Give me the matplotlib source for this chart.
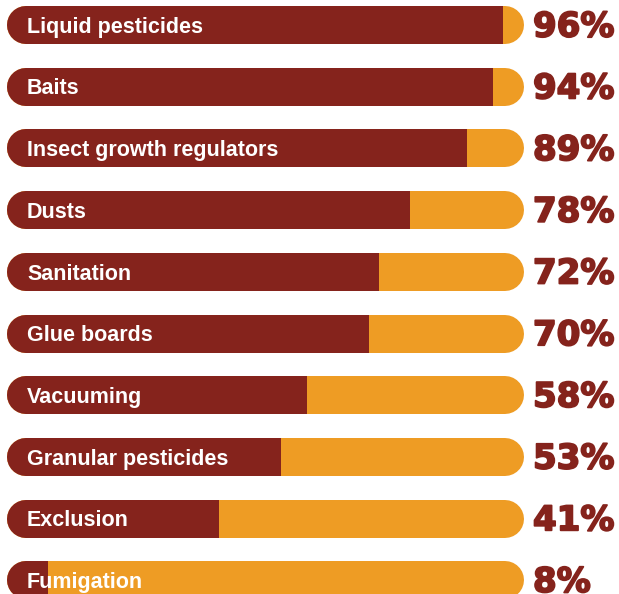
import matplotlib.pyplot as plt
import matplotlib.patheffects as pe
from matplotlib.patches import Rectangle

methods = ["Liquid pesticides", "Baits", "Insect growth regulators", "Dusts",
           "Sanitation", "Glue boards", "Vacuuming", "Granular pesticides",
           "Exclusion", "Fumigation"]
shares = [96, 94, 89, 78, 72, 70, 58, 53, 41, 8]

RED = "#85231c"
ORANGE = "#ee9c24"

W, H = 619, 594
fig = plt.figure(figsize=(W / 100, H / 100), dpi=100)
ax = fig.add_axes([0, 0, 1, 1])
ax.axis("off")

# 0..100 runs from pixel 7 to pixel 524, rows 61.7 px apart starting at 25 px
span = 100 * W / 517
x0 = -7 * span / W
ax.set_xlim(x0, x0 + span)
row = 61.7
top = -25 / row
ax.set_ylim(top + H / row, top)

px = span / W           # data units per pixel in x
thick = 38              # bar height in px
cap = thick / 2 * px
lw = thick * 72 / 100

for i, (name, val) in enumerate(zip(methods, shares)):
    ax.plot([cap, 100 - cap], [i, i], color=ORANGE, lw=lw,
            solid_capstyle="round")
    red, = ax.plot([cap, 100 - cap], [i, i], color=RED, lw=lw,
                   solid_capstyle="round")
    clip = Rectangle((x0, i - 0.5), val - x0, 1, transform=ax.transData)
    red.set_clip_path(clip)
    ax.text(20 * px, i + 7.7 / row, name, color="white", fontsize=15.5,
            fontweight="bold", va="baseline", ha="left",
            family=["Liberation Sans", "DejaVu Sans"])
    ax.text(100 + 9 * px, i + 11.7 / row, f"{val}%", color=RED, fontsize=24.5,
            fontweight="bold", va="baseline", ha="left",
            family=["DejaVu Sans"],
            path_effects=[pe.withStroke(linewidth=1.3, foreground=RED)])

fig.savefig("out.png", dpi=100)
